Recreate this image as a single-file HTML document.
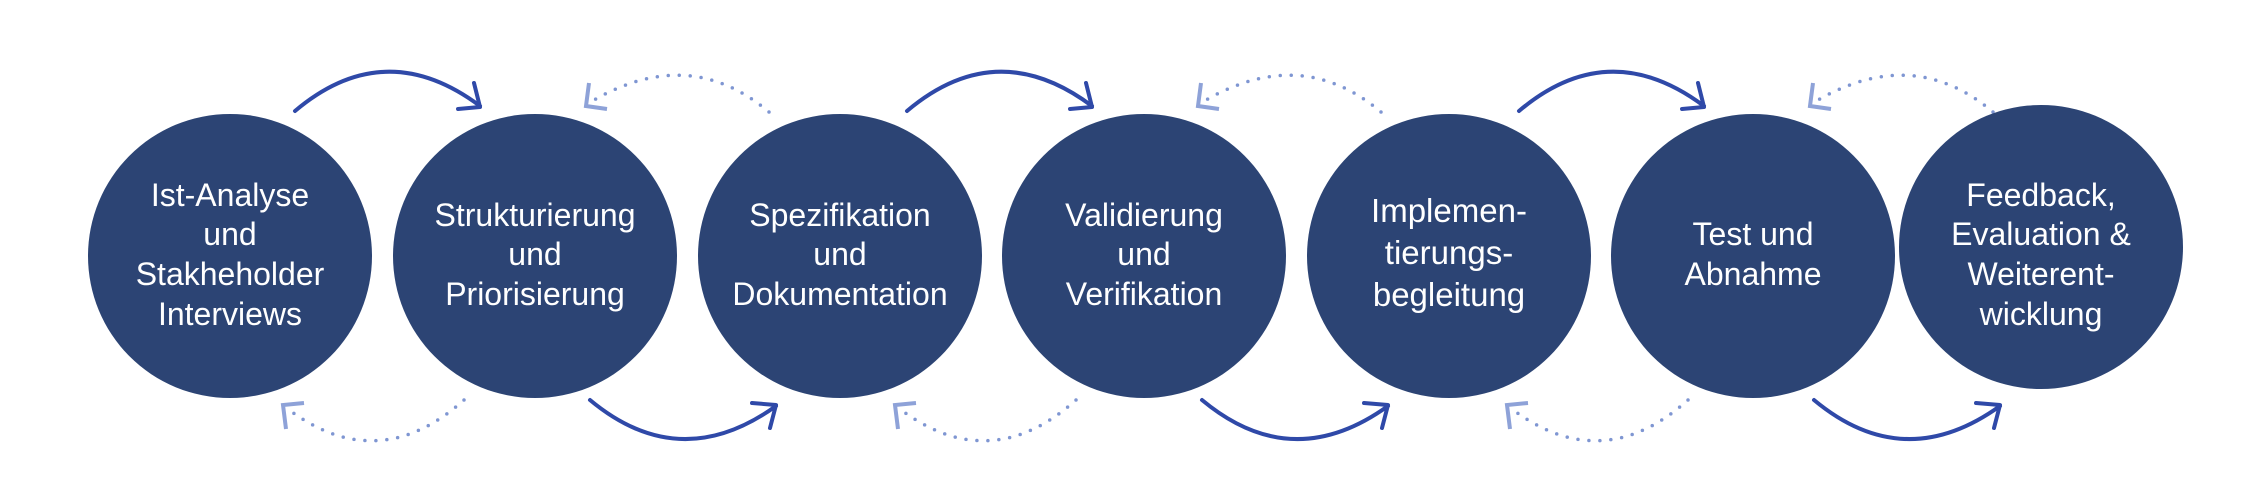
<!DOCTYPE html>
<html><head><meta charset="utf-8"><style>
html,body{margin:0;padding:0;background:#fff;}
svg{display:block;}
.t{font-family:"Liberation Sans Narrow","Liberation Sans",sans-serif;font-size:32px;fill:#fff;text-anchor:middle;}
.w{font-family:"Liberation Sans",sans-serif;font-size:33px;fill:#fff;text-anchor:middle;}
.s{fill:none;stroke:#2f49a8;stroke-width:4;stroke-linecap:round;stroke-linejoin:round;}
.d{fill:none;stroke:#7f96d2;stroke-width:3.5;stroke-linecap:round;stroke-dasharray:0 11;}
.h{fill:none;stroke:#8ea2d8;stroke-width:4;stroke-linecap:butt;stroke-linejoin:miter;}
</style></head><body>
<svg width="2256" height="492" viewBox="0 0 2256 492" xmlns="http://www.w3.org/2000/svg">
<defs>
<g id="pair">
  <path class="s" d="M295 111 Q385 35 480 106"/>
  <path class="s" d="M474 83 L480 107 L458 109"/>
  <path class="s" d="M590 400 Q680 475 776 406"/>
  <path class="s" d="M770 428 L776 405 L752 403"/>
  <path class="d" d="M769 112 Q690 45 594 100"/>
  <path class="h" d="M589 83 L586 106 L607 109"/>
  <path class="d" d="M464 400 Q380 475 292 412"/>
  <path class="h" d="M286 429 L283 405 L304 403"/>
</g>
</defs>
<use href="#pair" x="0"/>
<use href="#pair" x="612"/>
<use href="#pair" x="1224"/>

<g fill="#2c4474">
<circle cx="230" cy="256" r="142"/>
<circle cx="535" cy="256" r="142"/>
<circle cx="840" cy="256" r="142"/>
<circle cx="1144" cy="256" r="142"/>
<circle cx="1449" cy="256" r="142"/>
<circle cx="1753" cy="256" r="142"/>
<circle cx="2041" cy="247" r="142"/>
</g>

<text class="t" x="230" y="206">Ist-Analyse</text>
<text class="t" x="230" y="245">und</text>
<text class="t" x="230" y="285">Stakheholder</text>
<text class="t" x="230" y="325">Interviews</text>

<text class="t" x="535" y="226">Strukturierung</text>
<text class="t" x="535" y="265">und</text>
<text class="t" x="535" y="305">Priorisierung</text>

<text class="t" x="840" y="226">Spezifikation</text>
<text class="t" x="840" y="265">und</text>
<text class="t" x="840" y="305">Dokumentation</text>

<text class="t" x="1144" y="226">Validierung</text>
<text class="t" x="1144" y="265">und</text>
<text class="t" x="1144" y="305">Verifikation</text>

<text class="w" x="1449" y="222">Implemen-</text>
<text class="w" x="1449" y="264">tierungs-</text>
<text class="w" x="1449" y="306">begleitung</text>

<text class="t" x="1753" y="245">Test und</text>
<text class="t" x="1753" y="285">Abnahme</text>

<text class="t" x="2041" y="206">Feedback,</text>
<text class="t" x="2041" y="245">Evaluation &amp;</text>
<text class="t" x="2041" y="285">Weiterent-</text>
<text class="t" x="2041" y="325">wicklung</text>
</svg>
</body></html>
